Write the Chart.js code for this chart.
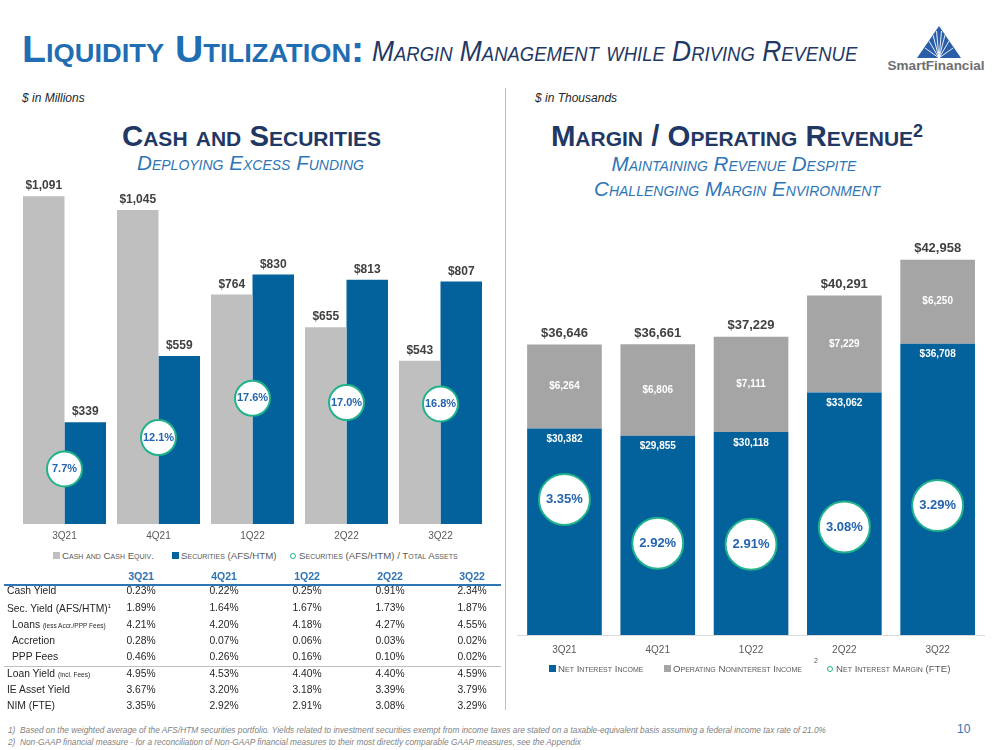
<!DOCTYPE html>
<html>
<head>
<meta charset="utf-8">
<script src="https://cdn.jsdelivr.net/npm/chart.js@4.4.1/dist/chart.umd.min.js"></script>
<style>
  body { margin: 0; background: #fff; font-family: "Liberation Sans", Arial, sans-serif; }
  #page { position: relative; width: 999px; height: 750px; overflow: hidden; background: #fff; }
  .abs { position: absolute; white-space: nowrap; line-height: 1; }
  .title { font-variant: small-caps; transform-origin: left center; }
  .head { font-weight: bold; font-size: 29.4px; font-variant: small-caps; color: #1f3864; text-align: center; }
  .sub { font-style: italic; font-size: 20.6px; font-variant: small-caps; color: #2e75b6; text-align: center; }
  .units { font-style: italic; font-size: 12px; color: #262626; }
  .leg { font-size: 9.7px; font-variant: small-caps; color: #595959; }
  .sw { display: inline-block; width: 7px; height: 7px; margin-right: 2px; vertical-align: 0px; }
  .ring { display: inline-block; width: 4px; height: 4px; border: 1.5px solid #20b28a; border-radius: 50%; margin-right: 3px; vertical-align: 0px; }
  canvas { position: absolute; }
  .tbl { font-size: 10.3px; color: #262626; }
  .th { font-weight: bold; color: #2e75b6; font-size: 10.5px; }
  .foot { font-style: italic; font-size: 8.3px; color: #7f7f7f; }
</style>
</head>
<body>
<div id="page">
  <div class="abs title" style="left:22px; top:32px; font-size:36px; font-weight:bold; color:#1f6db3; transform:scaleX(1.09);">Liquidity Utilization:</div>
  <div class="abs title" style="left:372px; top:36px; font-size:30px; font-style:italic; color:#1f3864; transform:scaleX(0.88);">Margin Management while Driving Revenue</div>

  <svg class="abs" style="left:880px; top:18px;" width="115" height="62" viewBox="0 0 115 62">
    <polygon points="59,8 37,40 81,40" fill="#2a5ea8"/>
    <g stroke="#fff" stroke-width="0.9">
      <line x1="59" y1="40" x2="49" y2="23"/>
      <line x1="59" y1="40" x2="53" y2="17"/>
      <line x1="59" y1="40" x2="56.5" y2="13"/>
      <line x1="59" y1="40" x2="61.5" y2="13"/>
      <line x1="59" y1="40" x2="65" y2="17"/>
      <line x1="59" y1="40" x2="69" y2="23"/>
      <line x1="59" y1="40" x2="73" y2="30"/>
      <line x1="59" y1="40" x2="45" y2="30"/>
    </g>
    <text x="56" y="52" text-anchor="middle" font-family="Liberation Sans, Arial" font-weight="bold" font-size="13.5" fill="#6d6e71">SmartFinancial</text>
  </svg>

  <div class="abs units" style="left:22px; top:92px;">$ in Millions</div>
  <div class="abs units" style="left:535px; top:92px;">$ in Thousands</div>
  <div class="abs" style="left:505px; top:88px; width:1px; height:622px; background:#bfbfbf;"></div>

  <div class="abs head" style="left:0; width:503px; top:121px;">Cash and Securities</div>
  <div class="abs sub" style="left:0; width:501px; top:153px;">Deploying Excess Funding</div>

  <div class="abs head" style="left:505px; width:464px; top:121px;">Margin / Operating Revenue<sup style="font-size:18px; font-variant:normal; vertical-align:9px;">2</sup></div>
  <div class="abs sub" style="left:505px; width:458px; top:154px;">Maintaining Revenue Despite</div>
  <div class="abs sub" style="left:505px; width:464px; top:179px;">Challenging Margin Environment</div>

  <canvas id="cashChart" width="500" height="400" style="left:0; top:150px;"></canvas>
  <canvas id="marginChart" width="499" height="520" style="left:500px; top:150px;"></canvas>

  <div class="abs leg" style="left:53px; top:551px;"><span class="sw" style="background:#bfbfbf"></span>Cash and Cash Equiv.</div>
  <div class="abs leg" style="left:172px; top:551px;"><span class="sw" style="background:#03629b"></span>Securities (AFS/HTM)</div>
  <div class="abs leg" style="left:290px; top:551px;"><span class="ring"></span>Securities (AFS/HTM) / Total Assets</div>

  <div class="abs leg" style="left:549px; top:664px;"><span class="sw" style="background:#03629b"></span>Net Interest Income</div>
  <div class="abs leg" style="left:664px; top:664px;"><span class="sw" style="background:#a5a5a5"></span>Operating Noninterest Income</div>
  <div class="abs leg" style="left:814px; top:657px; font-variant:normal; font-size:7px;">2</div>
  <div class="abs leg" style="left:827px; top:664px;"><span class="ring"></span>Net Interest Margin (FTE)</div>

  <div id="table"></div>

  <div class="abs foot" style="left:8px; top:726px;">1)&nbsp; Based on the weighted average of the AFS/HTM securities portfolio. Yields related to investment securities exempt from income taxes are stated on a taxable-equivalent basis assuming a federal income tax rate of 21.0%</div>
  <div class="abs foot" style="left:8px; top:738px;">2)&nbsp; Non-GAAP financial measure - for a reconciliation of Non-GAAP financial measures to their most directly comparable GAAP measures, see the Appendix</div>
  <div class="abs" style="left:957px; top:723px; font-size:12px; color:#2e75b6;">10</div>
</div>

<script>
// --- Data ---
const quarters = ['3Q21', '4Q21', '1Q22', '2Q22', '3Q22'];

// Cash and Securities ($ in millions)
const cashEquiv = [1091, 1045, 764, 655, 543];
const securities = [339, 559, 830, 813, 807];
const secToAssets = [7.7, 12.1, 17.6, 17.0, 16.8];

// Margin / Operating Revenue ($ in thousands)
const netInterestIncome = [30382, 29855, 30118, 33062, 36708];
const nonInterestIncome = [6264, 6806, 7111, 7229, 6250];
const nimFte = [3.35, 2.92, 2.91, 3.08, 3.29];

// Yield table
const rowLabels = ['Cash Yield', 'Sec. Yield (AFS/HTM)<sup style="font-size:6px">1</sup>',
    'Loans <span style="font-size:6.5px">(less Accr./PPP Fees)</span>', 'Accretion', 'PPP Fees',
    'Loan Yield <span style="font-size:6.5px">(incl. Fees)</span>', 'IE Asset Yield', 'NIM (FTE)'];
const rowIndent = [0, 0, 1, 1, 1, 0, 0, 0];
const cashYield = ['0.23%', '0.22%', '0.25%', '0.91%', '2.34%'];
const secYield = ['1.89%', '1.64%', '1.67%', '1.73%', '1.87%'];
const loansYield = ['4.21%', '4.20%', '4.18%', '4.27%', '4.55%'];
const accretion = ['0.28%', '0.07%', '0.06%', '0.03%', '0.02%'];
const pppFees = ['0.46%', '0.26%', '0.16%', '0.10%', '0.02%'];
const loanYield = ['4.95%', '4.53%', '4.40%', '4.40%', '4.59%'];
const ieAssetYield = ['3.67%', '3.20%', '3.18%', '3.39%', '3.79%'];
const nimRow = ['3.35%', '2.92%', '2.91%', '3.08%', '3.29%'];
const tableValues = [cashYield, secYield, loansYield, accretion, pppFees, loanYield, ieAssetYield, nimRow];

const BLUE = '#03629b';
const TEAL = '#20b28a';
const FONT = "'Liberation Sans', Arial, sans-serif";

const money = v => '$' + v.toLocaleString('en-US');

// draws value text next to bars / inside circles
const valueLabels = {
    id: 'valueLabels',
    afterDatasetsDraw(chart) {
        const ctx = chart.ctx;
        chart.data.datasets.forEach((ds, i) => {
            const meta = chart.getDatasetMeta(i);
            if (!ds.valueLabels || meta.hidden) return;
            ds.valueLabels.forEach(lb => {
                ctx.save();
                ctx.font = lb.font;
                ctx.fillStyle = lb.color;
                ctx.textAlign = 'center';
                ctx.textBaseline = 'middle';
                meta.data.forEach((el, j) => {
                    let y = el.y;
                    if (lb.pos === 'above') y = el.y - lb.offset;
                    else if (lb.pos === 'inTop') y = el.y + lb.offset;
                    else if (lb.pos === 'middle') y = (el.y + el.base) / 2;
                    ctx.fillText(lb.text(j), el.x, y);
                });
                ctx.restore();
            });
        });
    }
};

// --- Cash and Securities chart ---
new Chart(document.getElementById('cashChart'), {
    type: 'bar',
    data: {
        labels: quarters,
        datasets: [
            {
                label: 'Cash and Cash Equiv.',
                data: cashEquiv,
                backgroundColor: '#bfbfbf',
                categoryPercentage: 0.883,
                barPercentage: 1,
                order: 1,
                valueLabels: [{ pos: 'above', offset: 10, font: 'bold 12px ' + FONT, color: '#404040', text: j => money(cashEquiv[j]) }]
            },
            {
                label: 'Securities (AFS/HTM)',
                data: securities,
                backgroundColor: BLUE,
                categoryPercentage: 0.883,
                barPercentage: 1,
                order: 1,
                valueLabels: [{ pos: 'above', offset: 10, font: 'bold 12px ' + FONT, color: '#404040', text: j => money(securities[j]) }]
            },
            {
                type: 'line',
                label: 'Securities (AFS/HTM) / Total Assets',
                data: secToAssets,
                yAxisID: 'pct',
                showLine: false,
                pointRadius: 17.5,
                pointBackgroundColor: '#fff',
                pointBorderColor: TEAL,
                pointBorderWidth: 2,
                order: 0,
                valueLabels: [{ pos: 'point', font: 'bold 11px ' + FONT, color: '#2464ae', text: j => secToAssets[j].toFixed(1) + '%' }]
            }
        ]
    },
    options: {
        responsive: false,
        animation: false,
        events: [],
        layout: { autoPadding: false, padding: { left: 17.5, right: 12.5, top: 13.4, bottom: 0 } },
        plugins: { legend: { display: false }, tooltip: { enabled: false } },
        scales: {
            x: {
                grid: { display: false, drawTicks: false },
                border: { display: false },
                ticks: { color: '#595959', font: { size: 10, family: FONT }, padding: 6 },
                afterFit: axis => { axis.height = 26; }
            },
            y: { display: false, min: 0, max: 1200 },
            pct: { display: false, position: 'right', min: 0, max: 50.5 }
        }
    },
    plugins: [valueLabels]
});

// --- Margin / Operating Revenue chart ---
new Chart(document.getElementById('marginChart'), {
    type: 'bar',
    data: {
        labels: quarters,
        datasets: [
            {
                label: 'Net Interest Income',
                data: netInterestIncome,
                backgroundColor: BLUE,
                categoryPercentage: 0.8,
                barPercentage: 1,
                order: 1,
                valueLabels: [{ pos: 'inTop', offset: 11, font: 'bold 10px ' + FONT, color: '#ffffff', text: j => money(netInterestIncome[j]) }]
            },
            {
                label: 'Operating Noninterest Income',
                data: nonInterestIncome,
                backgroundColor: '#a5a5a5',
                categoryPercentage: 0.8,
                barPercentage: 1,
                order: 1,
                valueLabels: [
                    { pos: 'middle', font: 'bold 10px ' + FONT, color: '#ffffff', text: j => money(nonInterestIncome[j]) },
                    { pos: 'above', offset: 11, font: 'bold 13px ' + FONT, color: '#404040', text: j => money(netInterestIncome[j] + nonInterestIncome[j]) }
                ]
            },
            {
                type: 'line',
                label: 'Net Interest Margin (FTE)',
                data: nimFte,
                yAxisID: 'pct',
                showLine: false,
                pointRadius: 25.5,
                pointBackgroundColor: '#fff',
                pointBorderColor: TEAL,
                pointBorderWidth: 2,
                order: 0,
                valueLabels: [{ pos: 'point', font: 'bold 13px ' + FONT, color: '#2464ae', text: j => nimFte[j].toFixed(2) + '%' }]
            }
        ]
    },
    options: {
        responsive: false,
        animation: false,
        events: [],
        layout: { autoPadding: false, padding: { left: 17.8, right: 14.7, top: 82.4, bottom: 0 } },
        plugins: { legend: { display: false }, tooltip: { enabled: false } },
        scales: {
            x: {
                stacked: true,
                grid: { display: false, drawTicks: false },
                border: { display: true, color: '#d9d9d9', width: 1 },
                ticks: { color: '#595959', font: { size: 10, family: FONT }, padding: 9 },
                afterFit: axis => { axis.height = 35; }
            },
            y: { display: false, stacked: true, min: 15000, max: 45000 },
            pct: { display: false, position: 'right', min: 2.02, max: 5.97 }
        }
    },
    plugins: [valueLabels]
});

// --- Yield table ---
const table = document.getElementById('table');
const colCenters = [141, 224, 307, 390, 472];
let html = '';
quarters.forEach((q, c) => {
    html += `<div class="abs th" style="left:${colCenters[c] - 40}px; width:80px; text-align:center; top:571px;">${q}</div>`;
});
html += '<div class="abs" style="left:4px; top:584px; width:497px; height:1.5px; background:#2e75b6;"></div>';
html += '<div class="abs" style="left:4px; top:666px; width:497px; height:1px; background:#bfbfbf;"></div>';
const rowCenters = [592, 609, 625.5, 641.7, 658.3, 675, 691, 707.3];
rowLabels.forEach((lbl, r) => {
    const top = rowCenters[r] - 6;
    html += `<div class="abs tbl" style="left:${rowIndent[r] ? 12 : 7}px; top:${top}px;">${lbl}</div>`;
    tableValues[r].forEach((v, c) => {
        html += `<div class="abs tbl" style="left:${colCenters[c] - 40}px; width:80px; text-align:center; top:${top}px;">${v}</div>`;
    });
});
table.innerHTML = html;
</script>
</body>
</html>
